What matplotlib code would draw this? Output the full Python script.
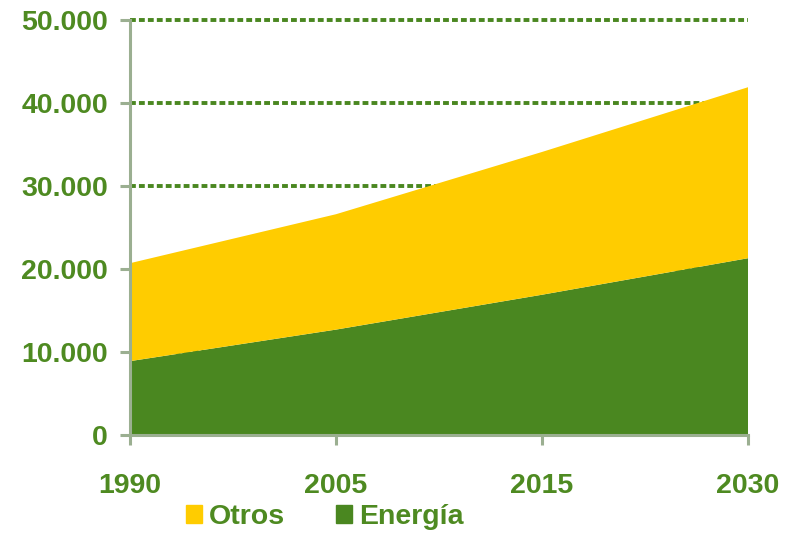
import matplotlib.pyplot as plt
from matplotlib.patches import Patch
from matplotlib.ticker import FuncFormatter

# ── Data ──
years = ["1990", "2005", "2015", "2030"]
energia = [8900, 12700, 16900, 21300]
total = [20700, 26600, 34100, 41900]
otros = [t - e for t, e in zip(total, energia)]

GREEN = "#4A8720"
YELLOW = "#FFCC00"
TXT = "#4E8A21"
AXC = "#9BAF91"

plt.rcParams["font.family"] = ["Liberation Sans", "DejaVu Sans"]
plt.rcParams["font.weight"] = "bold"

fig = plt.figure(figsize=(7.95, 5.36), dpi=100)
ax = fig.add_axes([0.1635, 0.1884, 0.7774, 0.7743])

x = list(range(len(years)))
ax.stackplot(x, energia, otros, colors=[GREEN, YELLOW], linewidth=0, zorder=2)

ax.set_xlim(0, 3)
ax.set_ylim(0, 50000)
ax.set_yticks(range(0, 50001, 10000))
ax.yaxis.set_major_formatter(FuncFormatter(lambda v, p: f"{int(v):,}".replace(",", ".")))
ax.set_xticks(x)
ax.set_xticklabels(years)

# dashed gridlines, hidden behind the areas
ax.grid(axis="y", color=GREEN, linestyle=(0, (1.5, 0.8)), linewidth=2.8, zorder=1)
ax.set_axisbelow(True)
for gl in ax.yaxis.get_gridlines():
    gl.set_clip_on(False)

for s in ["top", "right"]:
    ax.spines[s].set_visible(False)
for s in ["left", "bottom"]:
    ax.spines[s].set_color(AXC)
    ax.spines[s].set_linewidth(2.2)
    ax.spines[s].set_zorder(3)

ax.tick_params(axis="y", colors=AXC, labelcolor=TXT, labelsize=20.5, length=7, width=2.2, pad=9)
ax.tick_params(axis="x", colors=AXC, labelcolor=TXT, labelsize=20.5, length=7, width=2.2, pad=20)

handles = [Patch(color=YELLOW, label="Otros"), Patch(color=GREEN, label="Energía")]
fig.legend(handles=handles, loc="center", bbox_to_anchor=(325 / 795, 19 / 536), ncol=2,
           frameon=False, fontsize=20.5, handlelength=0.55, handleheight=0.55,
           handletextpad=0.25, columnspacing=1.8, labelcolor=TXT)

plt.savefig("out.png", dpi=100)
plt.close()
